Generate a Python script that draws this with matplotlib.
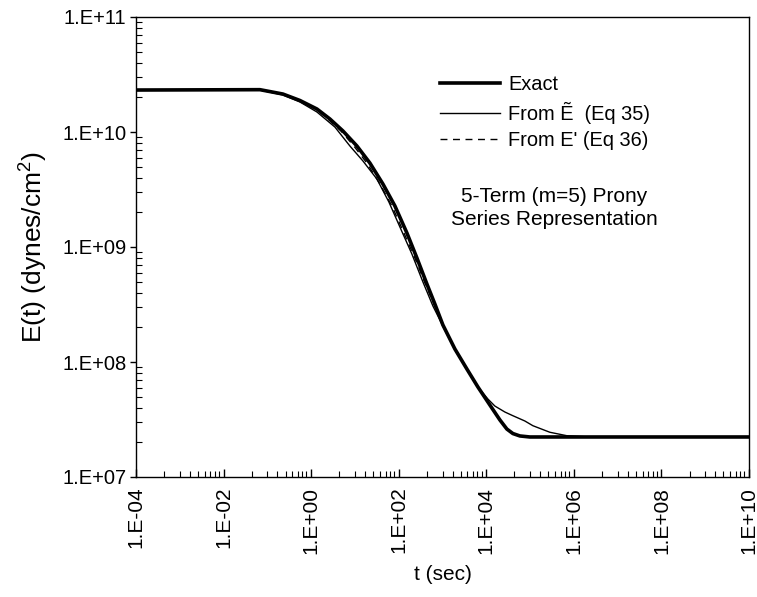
import numpy as np
import matplotlib
matplotlib.use("Agg")
import matplotlib.pyplot as plt
from matplotlib.ticker import FixedLocator, FuncFormatter, NullFormatter

plt.rcParams['font.family'] = ['Liberation Sans', 'DejaVu Sans']
plt.rcParams['mathtext.fontset'] = 'custom'
plt.rcParams['mathtext.rm'] = 'Liberation Sans'
plt.rcParams['mathtext.default'] = 'regular'

# ---- data (log10 values) ----
log_t_exact = [-4.0, -1.169, -0.644, -0.256, 0.132, 0.429, 0.726, 1.046, 1.342, 1.639,
               1.913, 2.187, 2.416, 2.644, 2.826, 3.009, 3.283, 3.557, 3.808, 4.082,
               4.311, 4.470, 4.607, 4.767, 4.995, 10.0]
log_E_exact = [10.365, 10.368, 10.330, 10.274, 10.200, 10.113, 10.009, 9.878, 9.730, 9.548,
               9.357, 9.122, 8.904, 8.678, 8.504, 8.322, 8.113, 7.939, 7.783, 7.626,
               7.496, 7.417, 7.378, 7.357, 7.348, 7.348]

log_t_eq35 = [-4.0, -1.169, -0.644, -0.256, 0.132, 0.543, 0.886, 1.183, 1.502, 1.776,
              2.027, 2.301, 2.553, 2.781, 3.009, 3.283, 3.557, 3.808, 4.037, 4.196,
              4.425, 4.607, 4.881, 5.064, 5.452, 5.840, 6.365, 10.0]
log_E_eq35 = [10.365, 10.365, 10.322, 10.261, 10.174, 10.043, 9.878, 9.748, 9.591, 9.391,
              9.174, 8.939, 8.696, 8.487, 8.313, 8.113, 7.939, 7.783, 7.678, 7.617,
              7.565, 7.533, 7.487, 7.446, 7.389, 7.359, 7.348, 7.348]

log_t_eq36 = [-4.0, -1.169, -0.644, -0.256, 0.110, 0.384, 0.680, 0.977, 1.274, 1.571,
              1.845, 2.119, 2.370, 2.610, 2.804, 3.009, 3.283, 3.557, 3.808, 4.082,
              4.311, 4.470, 4.607, 4.767, 4.995, 10.0]
log_E_eq36 = [10.365, 10.368, 10.330, 10.274, 10.200, 10.113, 10.009, 9.878, 9.730, 9.548,
              9.357, 9.122, 8.904, 8.678, 8.504, 8.322, 8.113, 7.939, 7.783, 7.626,
              7.496, 7.417, 7.378, 7.357, 7.348, 7.348]

x_major_exp = [-4, -2, 0, 2, 4, 6, 8, 10]
y_major_exp = [7, 8, 9, 10, 11]
x_minor_mult = [4.4, 10, 17, 26, 37, 50, 63, 78]

labels = ["Exact", "From \u1EBC  (Eq 35)", "From E' (Eq 36)"]
note = "5-Term (m=5) Prony\nSeries Representation"

# ---- figure ----
fig = plt.figure(figsize=(7.57, 5.97), dpi=100)
ax = fig.add_axes([136/757, 1-477/597, (749-136)/757, (477-17)/597])

ax.plot(10**np.array(log_t_exact), 10**np.array(log_E_exact), color='black', lw=2.6,
        label=labels[0])
ax.plot(10**np.array(log_t_eq35), 10**np.array(log_E_eq35), color='black', lw=1.0,
        label=labels[1])
ax.plot(10**np.array(log_t_eq36), 10**np.array(log_E_eq36), color='black', lw=1.0,
        dashes=(5, 4), label=labels[2])

ax.set_xscale('log')
ax.set_yscale('log')
ax.set_xlim(1e-4, 1e10)
ax.set_ylim(1e7, 1e11)

ax.xaxis.set_major_locator(FixedLocator([10.0**e for e in x_major_exp]))
minors = []
for e in x_major_exp[:-1]:
    for m in x_minor_mult:
        minors.append(m * 10.0**e)
ax.xaxis.set_minor_locator(FixedLocator(minors))
ax.xaxis.set_minor_formatter(NullFormatter())
ax.xaxis.set_major_formatter(FuncFormatter(lambda v, p: "1.E%+03d" % int(round(np.log10(v)))))

ax.yaxis.set_major_locator(FixedLocator([10.0**e for e in y_major_exp]))
ax.yaxis.set_minor_locator(FixedLocator([k * 10.0**e for e in y_major_exp[:-1] for k in range(2, 10)]))
ax.yaxis.set_minor_formatter(NullFormatter())
ax.yaxis.set_major_formatter(FuncFormatter(lambda v, p: "1.E%+03d" % int(round(np.log10(v)))))

ax.tick_params(axis='x', which='major', direction='in', length=6, width=1, labelsize=15,
               labelrotation=90, pad=7)
ax.tick_params(axis='x', which='minor', direction='in', length=4, width=0.8)
ax.tick_params(axis='y', which='major', direction='out', length=4, width=1, labelsize=14.5, pad=3)
ax.tick_params(axis='y', which='minor', direction='in', length=4, width=0.8)
for s in ax.spines.values():
    s.set_linewidth(1.0)

ax.set_xlabel("t (sec)", fontsize=15, labelpad=8)
ax.set_ylabel("E(t) (dynes/cm$^{2}$)", fontsize=19, labelpad=9)

leg = ax.legend(loc='upper left', bbox_to_anchor=((440-136)/613, 1-(75-17)/460),
                frameon=False, fontsize=14.4, handlelength=3.0, handletextpad=0.4,
                labelspacing=0.38, borderaxespad=0, borderpad=0)

ax.text((554-136)/613, 1-(208-17)/460, note,
        transform=ax.transAxes, ha='center', va='center', fontsize=15, linespacing=1.3)

fig.savefig("out.png", dpi=100)
